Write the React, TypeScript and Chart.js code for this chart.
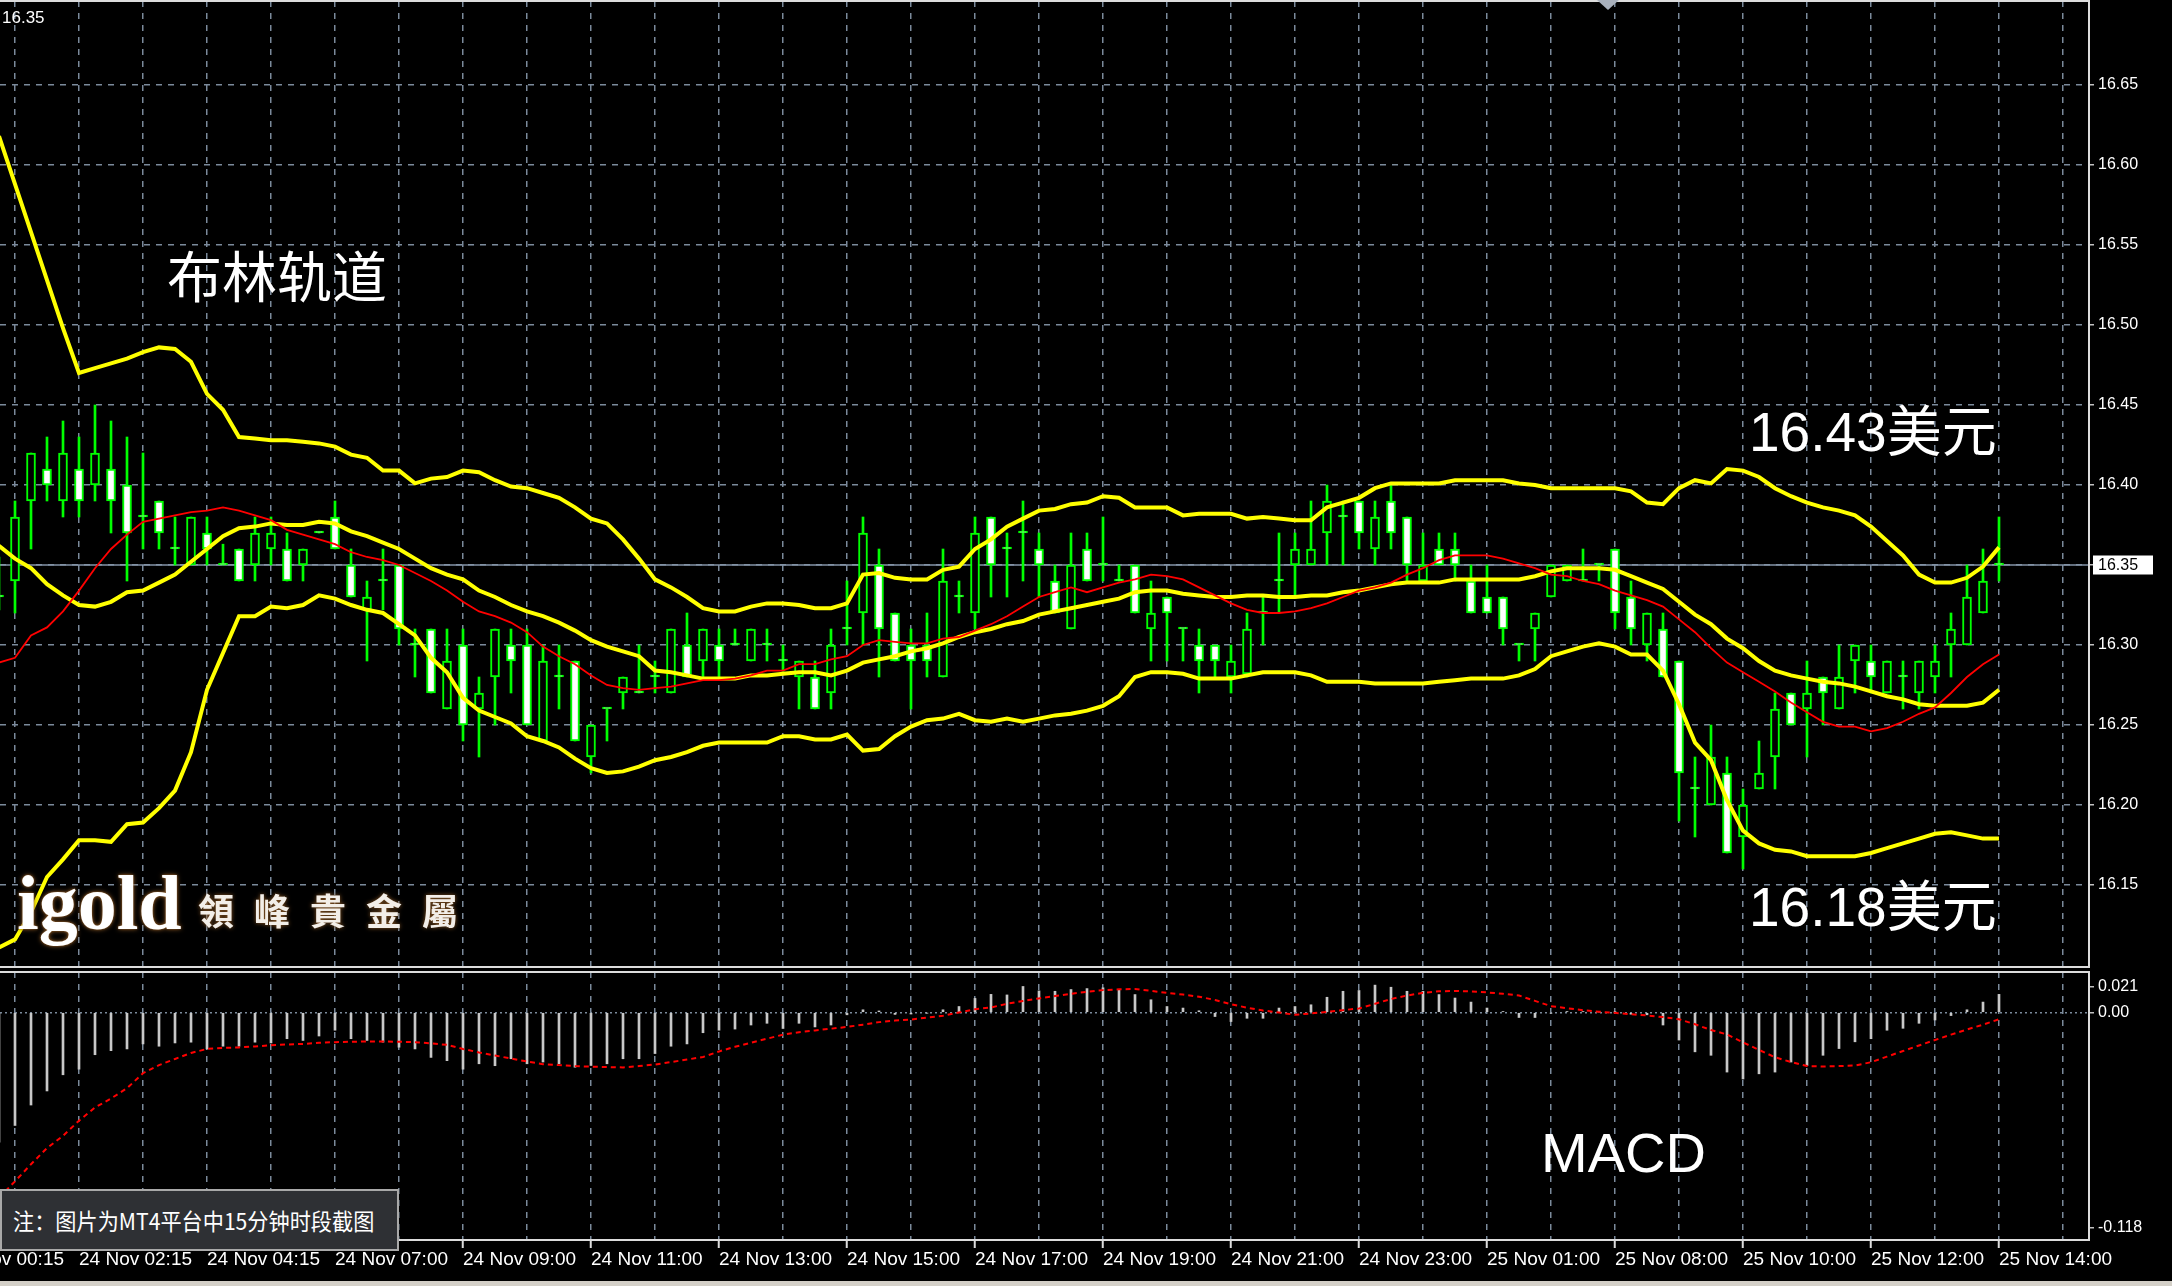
import React, { useEffect, useRef } from 'react';
import { Chart, registerables } from 'chart.js';

Chart.register(...registerables);

// ---------------- data (15-minute bars, first bar sits just left of the plot edge) ----------------
const FIRST_BAR = -1;

const OPEN = [
  16.33, 16.34, 16.39, 16.41, 16.39, 16.41, 16.40, 16.41, 16.40, 16.38,
  16.39, 16.36, 16.35, 16.37, 16.35, 16.36, 16.35, 16.36, 16.36, 16.35,
  16.37, 16.38, 16.35, 16.322, 16.34, 16.35, 16.30, 16.31, 16.26, 16.30,
  16.26, 16.28, 16.30, 16.30, 16.24, 16.28, 16.29, 16.23, 16.26, 16.27,
  16.27, 16.28, 16.27, 16.30, 16.29, 16.30, 16.30, 16.29, 16.30, 16.29,
  16.28, 16.28, 16.27, 16.31, 16.32, 16.35, 16.32, 16.30, 16.30, 16.28,
  16.33, 16.32, 16.38, 16.36, 16.37, 16.36, 16.34, 16.31, 16.36, 16.35,
  16.34, 16.35, 16.31, 16.33, 16.31, 16.30, 16.30, 16.28, 16.282, 16.32,
  16.34, 16.35, 16.35, 16.37, 16.38, 16.39, 16.36, 16.39, 16.38, 16.34,
  16.36, 16.36, 16.34, 16.33, 16.33, 16.30, 16.31, 16.33, 16.34, 16.34,
  16.35, 16.36, 16.33, 16.30, 16.31, 16.29, 16.21, 16.20, 16.22, 16.18,
  16.21, 16.23, 16.27, 16.26, 16.28, 16.26, 16.29, 16.29, 16.27, 16.28,
  16.27, 16.28, 16.30, 16.30, 16.32, 16.35,
];
const HIGH = [
  16.355, 16.39, 16.42, 16.43, 16.44, 16.43, 16.45, 16.44, 16.43, 16.42,
  16.39, 16.38, 16.38, 16.38, 16.363, 16.36, 16.38, 16.38, 16.37, 16.36,
  16.37, 16.39, 16.36, 16.34, 16.36, 16.35, 16.31, 16.31, 16.31, 16.31,
  16.28, 16.31, 16.31, 16.31, 16.30, 16.30, 16.29, 16.25, 16.26, 16.28,
  16.30, 16.29, 16.31, 16.32, 16.31, 16.31, 16.31, 16.31, 16.31, 16.30,
  16.29, 16.29, 16.31, 16.34, 16.38, 16.36, 16.32, 16.31, 16.32, 16.36,
  16.34, 16.38, 16.38, 16.37, 16.39, 16.37, 16.35, 16.37, 16.37, 16.38,
  16.35, 16.35, 16.34, 16.33, 16.31, 16.31, 16.30, 16.30, 16.32, 16.33,
  16.37, 16.37, 16.39, 16.40, 16.39, 16.39, 16.39, 16.40, 16.38, 16.37,
  16.37, 16.37, 16.35, 16.35, 16.33, 16.30, 16.32, 16.35, 16.35, 16.36,
  16.35, 16.36, 16.34, 16.32, 16.32, 16.29, 16.23, 16.25, 16.23, 16.21,
  16.24, 16.27, 16.27, 16.29, 16.28, 16.30, 16.30, 16.30, 16.29, 16.29,
  16.29, 16.30, 16.32, 16.35, 16.36, 16.38,
];
const LOW = [
  16.322, 16.32, 16.36, 16.39, 16.38, 16.38, 16.39, 16.37, 16.34, 16.36,
  16.36, 16.35, 16.35, 16.35, 16.35, 16.34, 16.34, 16.35, 16.34, 16.34,
  16.37, 16.36, 16.33, 16.29, 16.322, 16.30, 16.28, 16.27, 16.26, 16.24,
  16.23, 16.25, 16.27, 16.25, 16.24, 16.26, 16.24, 16.22, 16.24, 16.26,
  16.27, 16.27, 16.27, 16.28, 16.28, 16.28, 16.30, 16.29, 16.29, 16.282,
  16.26, 16.26, 16.26, 16.30, 16.30, 16.28, 16.29, 16.26, 16.28, 16.28,
  16.32, 16.31, 16.33, 16.33, 16.34, 16.33, 16.32, 16.31, 16.34, 16.34,
  16.34, 16.32, 16.29, 16.29, 16.29, 16.27, 16.28, 16.27, 16.28, 16.30,
  16.32, 16.33, 16.35, 16.35, 16.35, 16.36, 16.35, 16.36, 16.34, 16.34,
  16.35, 16.34, 16.32, 16.32, 16.30, 16.29, 16.29, 16.33, 16.34, 16.34,
  16.34, 16.31, 16.30, 16.29, 16.28, 16.19, 16.18, 16.20, 16.17, 16.16,
  16.21, 16.21, 16.25, 16.23, 16.25, 16.26, 16.27, 16.27, 16.27, 16.26,
  16.26, 16.27, 16.28, 16.30, 16.32, 16.34,
];
const CLOSE = [
  16.33, 16.38, 16.42, 16.40, 16.42, 16.39, 16.42, 16.39, 16.37, 16.38,
  16.37, 16.36, 16.38, 16.36, 16.35, 16.34, 16.37, 16.37, 16.34, 16.36,
  16.37, 16.36, 16.33, 16.33, 16.34, 16.31, 16.30, 16.27, 16.29, 16.25,
  16.27, 16.31, 16.29, 16.25, 16.29, 16.28, 16.24, 16.25, 16.26, 16.28,
  16.27, 16.28, 16.31, 16.28, 16.31, 16.29, 16.30, 16.31, 16.30, 16.29,
  16.29, 16.26, 16.30, 16.31, 16.37, 16.31, 16.29, 16.29, 16.29, 16.34,
  16.33, 16.37, 16.35, 16.36, 16.37, 16.35, 16.32, 16.35, 16.34, 16.35,
  16.34, 16.32, 16.32, 16.32, 16.31, 16.29, 16.29, 16.29, 16.31, 16.32,
  16.34, 16.36, 16.36, 16.39, 16.38, 16.37, 16.38, 16.37, 16.35, 16.35,
  16.35, 16.35, 16.32, 16.32, 16.31, 16.30, 16.32, 16.35, 16.35, 16.34,
  16.35, 16.32, 16.31, 16.32, 16.28, 16.22, 16.21, 16.23, 16.17, 16.20,
  16.22, 16.26, 16.25, 16.27, 16.27, 16.28, 16.30, 16.28, 16.29, 16.28,
  16.29, 16.29, 16.31, 16.33, 16.34, 16.35,
];

const BB_UPPER = [
  16.618, 16.588, 16.558, 16.528, 16.498, 16.470, 16.473, 16.476, 16.479, 16.483,
  16.486, 16.485, 16.477, 16.457, 16.447, 16.430, 16.429, 16.428, 16.428, 16.427,
  16.426, 16.424, 16.419, 16.417, 16.409, 16.409, 16.401, 16.404, 16.405, 16.409,
  16.408, 16.403, 16.399, 16.398, 16.395, 16.392, 16.386, 16.379, 16.376, 16.366,
  16.354, 16.341, 16.336, 16.330, 16.323, 16.321, 16.321, 16.324, 16.326, 16.326,
  16.325, 16.323, 16.323, 16.326, 16.344, 16.345, 16.342, 16.341, 16.341, 16.347,
  16.349, 16.360, 16.366, 16.374, 16.379, 16.384, 16.385, 16.388, 16.389, 16.393,
  16.392, 16.386, 16.386, 16.386, 16.381, 16.382, 16.382, 16.382, 16.379, 16.380,
  16.379, 16.378, 16.378, 16.386, 16.389, 16.392, 16.398, 16.401, 16.401, 16.401,
  16.401, 16.403, 16.403, 16.403, 16.403, 16.401, 16.400, 16.398, 16.398, 16.398,
  16.398, 16.398, 16.396, 16.389, 16.388, 16.398, 16.403, 16.401, 16.410, 16.409,
  16.405, 16.398, 16.393, 16.389, 16.386, 16.384, 16.381, 16.374, 16.365, 16.356,
  16.344, 16.339, 16.339, 16.342, 16.349, 16.361,
];
const BB_MIDDLE = [
  16.362, 16.354, 16.348, 16.338, 16.331, 16.325, 16.324, 16.327, 16.333, 16.334,
  16.339, 16.344, 16.352, 16.360, 16.368, 16.373, 16.374, 16.376, 16.375, 16.375,
  16.377, 16.376, 16.371, 16.368, 16.364, 16.360, 16.354, 16.348, 16.344, 16.341,
  16.334, 16.330, 16.325, 16.321, 16.318, 16.314, 16.309, 16.303, 16.299, 16.296,
  16.293, 16.284, 16.283, 16.281, 16.279, 16.279, 16.279, 16.281, 16.281, 16.282,
  16.283, 16.283, 16.281, 16.284, 16.289, 16.291, 16.293, 16.296, 16.298, 16.301,
  16.305, 16.308, 16.310, 16.313, 16.315, 16.319, 16.321, 16.323, 16.325, 16.327,
  16.329, 16.333, 16.334, 16.334, 16.332, 16.331, 16.330, 16.330, 16.331, 16.331,
  16.330, 16.330, 16.331, 16.331, 16.333, 16.334, 16.336, 16.338, 16.339, 16.339,
  16.339, 16.341, 16.341, 16.341, 16.341, 16.341, 16.343, 16.346, 16.348, 16.348,
  16.348, 16.347, 16.343, 16.339, 16.335, 16.327, 16.319, 16.313, 16.304, 16.298,
  16.290, 16.284, 16.281, 16.279, 16.277, 16.276, 16.274, 16.271, 16.268, 16.266,
  16.263, 16.262, 16.262, 16.262, 16.264, 16.272,
];
const BB_LOWER = [
  16.111, 16.116, 16.133, 16.155, 16.166, 16.178, 16.178, 16.177, 16.188, 16.189,
  16.198, 16.209, 16.233, 16.272, 16.295, 16.318, 16.318, 16.324, 16.323, 16.325,
  16.331, 16.329, 16.325, 16.322, 16.320, 16.313, 16.306, 16.292, 16.283, 16.267,
  16.259, 16.255, 16.251, 16.243, 16.240, 16.236, 16.229, 16.223, 16.220, 16.221,
  16.224, 16.228, 16.230, 16.233, 16.237, 16.239, 16.239, 16.239, 16.239, 16.243,
  16.243, 16.241, 16.241, 16.244, 16.234, 16.235, 16.243, 16.249, 16.253, 16.254,
  16.257, 16.253, 16.252, 16.254, 16.252, 16.254, 16.256, 16.257, 16.259, 16.262,
  16.268, 16.280, 16.283, 16.283, 16.282, 16.279, 16.279, 16.279, 16.281, 16.283,
  16.283, 16.283, 16.281, 16.277, 16.277, 16.277, 16.276, 16.276, 16.276, 16.276,
  16.277, 16.278, 16.279, 16.279, 16.279, 16.281, 16.285, 16.293, 16.296, 16.299,
  16.301, 16.299, 16.294, 16.294, 16.284, 16.263, 16.239, 16.228, 16.203, 16.184,
  16.176, 16.172, 16.171, 16.168, 16.168, 16.168, 16.168, 16.170, 16.173, 16.176,
  16.179, 16.182, 16.183, 16.181, 16.179, 16.179,
];
const MA_RED = [
  16.289, 16.292, 16.306, 16.311, 16.321, 16.334, 16.348, 16.360, 16.369, 16.377,
  16.379, 16.381, 16.383, 16.384, 16.386, 16.384, 16.381, 16.378, 16.372, 16.369,
  16.366, 16.363, 16.358, 16.355, 16.353, 16.350, 16.345, 16.340, 16.334, 16.327,
  16.321, 16.318, 16.314, 16.308, 16.299, 16.293, 16.288, 16.281, 16.275, 16.273,
  16.272, 16.273, 16.274, 16.276, 16.278, 16.278, 16.279, 16.281, 16.284, 16.284,
  16.288, 16.288, 16.291, 16.293, 16.300, 16.303, 16.302, 16.301, 16.301, 16.304,
  16.305, 16.309, 16.313, 16.318, 16.324, 16.330, 16.333, 16.336, 16.333, 16.336,
  16.339, 16.341, 16.344, 16.343, 16.341, 16.336, 16.331, 16.326, 16.322, 16.320,
  16.320, 16.321, 16.323, 16.326, 16.330, 16.334, 16.336, 16.339, 16.344, 16.348,
  16.353, 16.356, 16.356, 16.356, 16.354, 16.351, 16.348, 16.344, 16.343, 16.340,
  16.338, 16.334, 16.331, 16.328, 16.324, 16.316, 16.308, 16.298, 16.289, 16.283,
  16.277, 16.271, 16.264, 16.258, 16.252, 16.249, 16.249, 16.246, 16.248, 16.252,
  16.257, 16.261, 16.270, 16.280, 16.288, 16.294,
];

const MACD_MAIN = [
  -0.0673, -0.0586, -0.048, -0.0407, -0.0323, -0.0294, -0.0219, -0.0198, -0.0189, -0.0163,
  -0.0175, -0.0158, -0.0154, -0.0189, -0.0175, -0.0175, -0.0154, -0.0158, -0.0136, -0.0145,
  -0.0122, -0.0092, -0.0136, -0.0145, -0.0154, -0.018, -0.0189, -0.0233, -0.025, -0.0294,
  -0.0266, -0.0276, -0.024, -0.0266, -0.0257, -0.0266, -0.0284, -0.0275, -0.0266, -0.024,
  -0.024, -0.0213, -0.0175, -0.0163, -0.0105, -0.0092, -0.0086, -0.0065, -0.0056, -0.0083,
  -0.0056, -0.0075, -0.0065, -0.0012, 0.0014, 0.0008, -0.001, -0.0008, -0.0003, 0.0014,
  0.0031, 0.0073, 0.0094, 0.0091, 0.0135, 0.0112, 0.011, 0.0119, 0.0124, 0.0128,
  0.0119, 0.0093, 0.0066, 0.0031, 0.0023, 0.0009, -0.0021, -0.0047, -0.003, -0.003,
  0.0023, 0.0031, 0.004, 0.0079, 0.011, 0.0114, 0.0142, 0.0131, 0.011, 0.011,
  0.0093, 0.0075, 0.0054, 0.0023, 0.0005, -0.0026, -0.0026, -0.0003, 0.0005, 0.0005,
  0.0002, 0.0001, -0.0009, -0.0012, -0.0065, -0.0143, -0.0204, -0.0222, -0.0309, -0.0345,
  -0.0318, -0.0309, -0.0257, -0.0275, -0.0222, -0.0187, -0.0152, -0.0136, -0.0092, -0.0082,
  -0.0056, -0.0039, -0.0016, 0.0014, 0.0054, 0.0094,
];
const MACD_SIGNAL = [
  -0.096, -0.0876, -0.0787, -0.0703, -0.064, -0.0561, -0.0493, -0.0446, -0.0393, -0.0315,
  -0.0273, -0.0241, -0.021, -0.0189, -0.0184, -0.0181, -0.0176, -0.017, -0.0166, -0.0163,
  -0.0157, -0.0154, -0.0152, -0.015, -0.015, -0.0152, -0.0154, -0.016, -0.0168, -0.0189,
  -0.0207, -0.0223, -0.0239, -0.0254, -0.0268, -0.0273, -0.0278, -0.0281, -0.0283, -0.0285,
  -0.0278, -0.027, -0.0257, -0.0244, -0.0231, -0.0202, -0.0178, -0.0157, -0.0136, -0.0115,
  -0.0102, -0.0093, -0.0084, -0.0075, -0.0063, -0.005, -0.0042, -0.0037, -0.0026, -0.0017,
  0.0, 0.0017, 0.0026, 0.0045, 0.006, 0.0073, 0.0085, 0.0097, 0.0107, 0.0116,
  0.012, 0.0122, 0.0112, 0.0102, 0.0093, 0.0082, 0.0065, 0.0043, 0.0025, 0.001,
  0.0, -0.0012, -0.0005, 0.0003, 0.0012, 0.0021, 0.0045, 0.007, 0.0088, 0.0102,
  0.011, 0.0112, 0.0109, 0.0104, 0.0097, 0.0088, 0.006, 0.0033, 0.0022, 0.0012,
  0.0004, -0.0002, -0.0009, -0.0015, -0.0024, -0.0035, -0.0061, -0.0091, -0.0114, -0.0155,
  -0.0194, -0.0232, -0.0257, -0.0278, -0.028, -0.0278, -0.0275, -0.0258, -0.0229, -0.02,
  -0.0171, -0.0143, -0.0115, -0.0088, -0.0063, -0.0035,
];

const BID_PRICE = 16.35;
const PRICE_TICKS = [16.15, 16.2, 16.25, 16.3, 16.35, 16.4, 16.45, 16.5, 16.55, 16.6, 16.65];
const MACD_MAX = 0.021;
const MACD_MIN = -0.118;
const MACD_TICK_LABELS = ['0.021', '0.00', '-0.118'];
const TIME_LABELS = [
  '24 Nov 00:15', '24 Nov 02:15', '24 Nov 04:15', '24 Nov 07:00', '24 Nov 09:00',
  '24 Nov 11:00', '24 Nov 13:00', '24 Nov 15:00', '24 Nov 17:00', '24 Nov 19:00',
  '24 Nov 21:00', '24 Nov 23:00', '25 Nov 01:00', '25 Nov 08:00', '25 Nov 10:00',
  '25 Nov 12:00', '25 Nov 14:00',
];
const TIME_LABEL_FIRST_BAR = -4;
const BARS_PER_LABEL = 8;
const BARS_PER_GRID = 4;

// ---------------- layout / style ----------------
const W = 2172;
const H = 1286;
const AXIS_W = 83;
const MAIN_H = 970;
const MACD_TOP = 962;
const MACD_H = 324;
const PX_PER_BAR = 16;
const FIRST_GRID_PX = 15;
const X_MIN = -FIRST_GRID_PX / PX_PER_BAR;
const X_MAX = X_MIN + (W - AXIS_W) / PX_PER_BAR;
const Y_PX_PER_UNIT = 1600;
const BID_PX = 565;
const Y_MAX = BID_PRICE + (BID_PX - 1) / Y_PX_PER_UNIT;
const Y_MIN = BID_PRICE - (967 - BID_PX) / Y_PX_PER_UNIT;

const GRID = '#7b8a9b';
const GRID_DASH = [6, 6];
const FRAME = '#dcdcdc';
const GREEN = '#00ff00';
const YELLOW = '#ffff00';
const RED = '#ff0000';
const AXIS_FONT = '"Liberation Sans", Arial, sans-serif';

const barX = (k: number) => FIRST_BAR + k;
const gridBars: number[] = [];
for (let b = 0; b * PX_PER_BAR + FIRST_GRID_PX <= W - AXIS_W; b += BARS_PER_GRID) gridBars.push(b);
const labelIndex = (v: number) => {
  const k = (v - TIME_LABEL_FIRST_BAR) / BARS_PER_LABEL;
  return Number.isInteger(k) && k >= 0 && k < TIME_LABELS.length ? k : -1;
};
const noScalePadding = (s: any) => {
  s.paddingTop = 0;
  s.paddingBottom = 0;
  s.paddingLeft = 0;
  s.paddingRight = 0;
};

const framePlugin = {
  id: 'mtFrame',
  afterDatasetsDraw(chart: any) {
    const { ctx, chartArea: a } = chart;
    ctx.save();
    ctx.strokeStyle = FRAME;
    ctx.lineWidth = 2;
    ctx.beginPath();
    ctx.moveTo(a.left, a.top);
    ctx.lineTo(a.right, a.top);
    ctx.lineTo(a.right, a.bottom);
    ctx.lineTo(a.left, a.bottom);
    ctx.stroke();
    ctx.restore();
  },
};

const bidLabelPlugin = {
  id: 'bidLabel',
  afterDraw(chart: any) {
    const { ctx, chartArea: a } = chart;
    const y = chart.scales.y.getPixelForValue(BID_PRICE);
    ctx.save();
    ctx.fillStyle = '#ffffff';
    ctx.fillRect(a.right + 4, y - 9.5, 60, 19);
    ctx.fillStyle = '#000000';
    ctx.font = `16px ${AXIS_FONT}`;
    ctx.textBaseline = 'middle';
    ctx.textAlign = 'left';
    ctx.fillText(BID_PRICE.toFixed(2), a.right + 9, y + 1);
    ctx.restore();
  },
};

function mainConfig(): any {
  return {
    type: 'bar',
    data: {
      datasets: [
        {
          type: 'line', label: 'MA', order: 0,
          data: MA_RED.map((v, k) => ({ x: barX(k), y: v })),
          borderColor: RED, borderWidth: 1.8, pointRadius: 0, tension: 0,
        },
        {
          type: 'line', label: 'BB upper', order: 1,
          data: BB_UPPER.map((v, k) => ({ x: barX(k), y: v })),
          borderColor: YELLOW, borderWidth: 4, pointRadius: 0, tension: 0,
        },
        {
          type: 'line', label: 'BB middle', order: 1,
          data: BB_MIDDLE.map((v, k) => ({ x: barX(k), y: v })),
          borderColor: YELLOW, borderWidth: 4, pointRadius: 0, tension: 0,
        },
        {
          type: 'line', label: 'BB lower', order: 1,
          data: BB_LOWER.map((v, k) => ({ x: barX(k), y: v })),
          borderColor: YELLOW, borderWidth: 4, pointRadius: 0, tension: 0,
        },
        {
          type: 'bar', label: 'body', order: 2, grouped: false,
          data: OPEN.map((o, k) => ({ x: barX(k), y: [o, CLOSE[k]] })),
          backgroundColor: OPEN.map((o, k) => (CLOSE[k] > o ? '#000000' : '#ffffff')),
          borderColor: GREEN, borderWidth: 2, borderSkipped: false,
          barThickness: 9, minBarLength: 2,
        },
        {
          type: 'bar', label: 'wick', order: 3, grouped: false,
          data: HIGH.map((h, k) => ({ x: barX(k), y: [LOW[k], h] })),
          backgroundColor: GREEN, borderWidth: 0, barThickness: 2, minBarLength: 1,
        },
        {
          type: 'line', label: 'bid', order: 5,
          data: [{ x: X_MIN, y: BID_PRICE }, { x: X_MAX, y: BID_PRICE }],
          borderColor: '#8595a8', borderWidth: 1.5, pointRadius: 0,
        },
      ],
    },
    options: {
      responsive: false,
      animation: false,
      devicePixelRatio: 1,
      events: [],
      layout: { autoPadding: false, padding: { top: 1, bottom: 3, left: 0, right: 0 } },
      plugins: { legend: { display: false }, tooltip: { enabled: false } },
      scales: {
        x: {
          type: 'linear', min: X_MIN, max: X_MAX, offset: false,
          grid: { color: GRID, lineWidth: 1.5, drawTicks: false, offset: false },
          border: { display: false, dash: GRID_DASH },
          ticks: { display: false },
          afterBuildTicks: (s: any) => { s.ticks = gridBars.map((v) => ({ value: v })); },
          afterFit: (s: any) => { s.height = 0; noScalePadding(s); },
        },
        y: {
          type: 'linear', position: 'right', min: Y_MIN, max: Y_MAX, beginAtZero: false,
          grid: {
            color: GRID, lineWidth: 1.5, drawTicks: true, tickLength: 5,
            tickColor: '#c0c0c0', tickWidth: 1.5, tickBorderDash: [1, 0],
          },
          border: { display: false, dash: GRID_DASH },
          ticks: {
            color: '#ffffff', padding: 4, font: { family: AXIS_FONT, size: 16 },
            callback: (v: any) => Number(v).toFixed(2),
          },
          afterBuildTicks: (s: any) => { s.ticks = PRICE_TICKS.map((v) => ({ value: v })); },
          afterFit: (s: any) => { s.width = AXIS_W; noScalePadding(s); },
        },
      },
    },
    plugins: [framePlugin, bidLabelPlugin],
  };
}

function macdConfig(): any {
  const range = MACD_MAX - MACD_MIN;
  return {
    type: 'bar',
    data: {
      datasets: [
        {
          type: 'line', label: 'Signal', order: 0,
          data: MACD_SIGNAL.map((v, k) => ({ x: barX(k), y: v })),
          borderColor: RED, borderWidth: 2, borderDash: [5, 4], pointRadius: 0, tension: 0,
        },
        {
          type: 'bar', label: 'MACD', order: 1, grouped: false, base: 0,
          data: MACD_MAIN.map((v, k) => ({ x: barX(k), y: v })),
          backgroundColor: '#c8c8c8', borderWidth: 0, barThickness: 2,
        },
      ],
    },
    options: {
      responsive: false,
      animation: false,
      devicePixelRatio: 1,
      events: [],
      layout: { autoPadding: false, padding: { top: 10, bottom: 6, left: 0, right: 0 } },
      plugins: { legend: { display: false }, tooltip: { enabled: false } },
      scales: {
        x: {
          type: 'linear', position: 'bottom', min: X_MIN, max: X_MAX, offset: false,
          grid: {
            color: GRID, lineWidth: 1.5, drawTicks: true, tickLength: 8, tickWidth: 2,
            tickBorderDash: [1, 0], offset: false,
            tickColor: (c: any) => (c.tick && labelIndex(c.tick.value) >= 0 ? FRAME : 'rgba(0,0,0,0)'),
          },
          border: { display: false, dash: GRID_DASH },
          ticks: {
            color: '#ffffff', padding: 0, align: 'start', maxRotation: 0, minRotation: 0, autoSkip: false,
            font: { family: AXIS_FONT, size: 19 },
            callback: (v: any) => { const k = labelIndex(Number(v)); return k >= 0 ? TIME_LABELS[k] : ''; },
          },
          afterBuildTicks: (s: any) => {
            s.ticks = [TIME_LABEL_FIRST_BAR, ...gridBars].map((v) => ({ value: v }));
          },
          afterFit: (s: any) => { s.height = 40; noScalePadding(s); },
        },
        y: {
          type: 'linear', position: 'right', min: MACD_MIN, max: MACD_MAX, beginAtZero: false,
          grid: {
            color: (c: any) => (c.tick && c.tick.value === 0 ? GRID : 'rgba(0,0,0,0)'),
            lineWidth: 1.5, drawTicks: true, tickLength: 5, tickColor: '#c0c0c0', tickWidth: 1.5,
            tickBorderDash: [1, 0],
          },
          border: { display: false, dash: [2, 3] },
          ticks: {
            color: '#ffffff', padding: 4, font: { family: AXIS_FONT, size: 16 },
            callback: (_v: any, i: number) => MACD_TICK_LABELS[i],
          },
          afterBuildTicks: (s: any) => {
            s.ticks = [
              { value: MACD_MAX - range * 0.056 },
              { value: 0 },
              { value: MACD_MIN + range * 0.045 },
            ];
          },
          afterFit: (s: any) => { s.width = AXIS_W; noScalePadding(s); },
        },
      },
    },
    plugins: [framePlugin],
  };
}

const abs = (extra: React.CSSProperties): React.CSSProperties => ({
  position: 'absolute', whiteSpace: 'nowrap', margin: 0, padding: 0, ...extra,
});

export default function App() {
  const mainRef = useRef<HTMLCanvasElement>(null);
  const macdRef = useRef<HTMLCanvasElement>(null);

  useEffect(() => {
    document.body.style.margin = '0';
    document.body.style.background = '#000';
    const main = new Chart(mainRef.current as HTMLCanvasElement, mainConfig());
    const macd = new Chart(macdRef.current as HTMLCanvasElement, macdConfig());
    return () => {
      main.destroy();
      macd.destroy();
    };
  }, []);

  const cjk = '"Noto Sans CJK SC", "Noto Sans", sans-serif';
  const latinCjk = '"Liberation Sans", Arial, "Noto Sans CJK SC", sans-serif';

  return (
    <div style={{ position: 'fixed', left: 0, top: 0, width: W, height: H, background: '#000', overflow: 'hidden' }}>
      <canvas ref={mainRef} width={W} height={MAIN_H} style={abs({ left: 0, top: 0, width: W, height: MAIN_H })} />
      <canvas ref={macdRef} width={W} height={MACD_H} style={abs({ left: 0, top: MACD_TOP, width: W, height: MACD_H })} />

      <div style={abs({ left: 2, top: 9, fontFamily: AXIS_FONT, fontSize: 17, lineHeight: '17px', color: '#fff' })}>16.35</div>
      <div style={abs({ left: 1597, top: 0, width: 0, height: 0, borderLeft: '11px solid transparent', borderRight: '11px solid transparent', borderTop: '10px solid #a8b0bc' })} />

      <div style={abs({ left: 167, top: 246, fontFamily: cjk, fontSize: 55, lineHeight: '55px', color: '#fff' })}>布林轨道</div>
      <div style={abs({ left: 1749, top: 405, fontFamily: latinCjk, fontSize: 55, lineHeight: '55px', color: '#fff' })}>16.43美元</div>
      <div style={abs({ left: 1749, top: 880, fontFamily: latinCjk, fontSize: 55, lineHeight: '55px', color: '#fff' })}>16.18美元</div>
      <div style={abs({ left: 1541, top: 1125, fontFamily: latinCjk, fontSize: 56, lineHeight: '56px', color: '#fff' })}>MACD</div>

      <div style={abs({ left: 17, top: 864, fontFamily: '"Liberation Serif", "DejaVu Serif", serif', fontWeight: 700, fontSize: 78, lineHeight: '78px', color: '#fff', textShadow: '0 0 5px rgba(150,95,40,0.95), 0 0 2px rgba(150,95,40,0.9)' })}>igold</div>
      <div style={abs({ left: 198, top: 891, fontFamily: '"Noto Sans CJK TC", "Noto Sans CJK SC", sans-serif', fontWeight: 700, fontSize: 36, lineHeight: '36px', letterSpacing: 20, color: '#f2eee8', textShadow: '0 0 4px rgba(150,95,40,0.95)' })}>領峰貴金屬</div>

      <div style={abs({ left: 0, top: 1189, width: 399, height: 62, boxSizing: 'border-box', background: '#2e3034', border: '2px solid #a9a9a9', display: 'flex', alignItems: 'center' })}>
        <span style={{ marginLeft: 11, fontFamily: cjk, fontSize: 23, color: '#fff', display: 'inline-block', transform: 'scaleX(0.92)', transformOrigin: 'left center', whiteSpace: 'nowrap' }}>注：图片为MT4平台中15分钟时段截图</span>
      </div>

      <div style={abs({ left: 0, top: 1281, width: W, height: 5, background: '#d4d0c8' })} />
    </div>
  );
}
